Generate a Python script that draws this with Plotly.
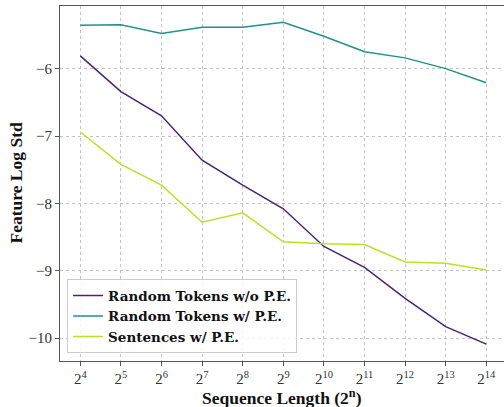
import plotly.graph_objects as go

n_exp = [4, 5, 6, 7, 8, 9, 10, 11, 12, 13, 14]
no_pe = [-5.81, -6.34, -6.70, -7.36, -7.73, -8.08, -8.64, -8.95, -9.41, -9.83, -10.09]
rand_pe = [-5.354, -5.348, -5.477, -5.384, -5.384, -5.31, -5.52, -5.75, -5.84, -6.00, -6.21]
sent_pe = [-6.94, -7.42, -7.73, -8.28, -8.14, -8.57, -8.60, -8.61, -8.87, -8.89, -8.99]
names = ["Random Tokens w/o P.E.", "Random Tokens w/ P.E.", "Sentences w/ P.E."]
colors = ["#482475", "#21918c", "#bddf26"]
x_ticktext = [f"2<sup>{n}</sup>" for n in n_exp]
y_tickvals = [-10, -9, -8, -7, -6]
y_ticktext = ["\u221210", "\u22129", "\u22128", "\u22127", "\u22126"]
x_title = "<b>Sequence Length (2<sup>n</sup>)</b>"
y_title = "<b>Feature Log Std</b>"

font = "Liberation Serif, DejaVu Serif, serif"
legfont = "DejaVu Serif, serif"

W, H = 504, 407
L, R, T, B = 60, 0, 6, 46
pw, ph = W - L - R, H - T - B

fig = go.Figure()
for name, vals, c in zip(names, [no_pe, rand_pe, sent_pe], colors):
    fig.add_trace(go.Scatter(x=n_exp, y=vals, mode="lines", name=f"<b>{name}</b>",
                             line=dict(color=c, width=1.5)))

axis_common = dict(
    showgrid=True, gridcolor="#c4c4c4", griddash="dot", gridwidth=0.7,
    zeroline=False, showline=True, linecolor="#555555", linewidth=1.2,
    ticks="outside", ticklen=4, tickcolor="#555555", tickwidth=1,
    tickfont=dict(family=font, size=15, color="#333333"),
)

fig.update_layout(
    width=W, height=H,
    margin=dict(l=L, r=R, t=T, b=B),
    paper_bgcolor="white", plot_bgcolor="white",
    showlegend=True,
    legend=dict(x=0.016, y=0.022, xanchor="left", yanchor="bottom",
                bgcolor="rgba(255,255,255,0.85)", bordercolor="#cccccc", borderwidth=1,
                font=dict(family=legfont, size=13.5, color="#111111"),
                itemwidth=30, tracegroupgap=0),
    xaxis=dict(axis_common, range=[3.5, 14.436], tickvals=n_exp, ticktext=x_ticktext,
               mirror=True),
    yaxis=dict(axis_common, range=[-10.34, -5.07], tickvals=y_tickvals, ticktext=y_ticktext),
)

fig.add_annotation(text=x_title, xref="paper", yref="paper",
                   x=0.5, y=-(397 - (H - B)) / ph, xanchor="center", yanchor="middle",
                   showarrow=False, font=dict(family=font, size=17.5, color="#111111"))
fig.add_annotation(text=y_title, xref="paper", yref="paper",
                   x=-(L - 15) / pw, y=0.5, xanchor="center", yanchor="middle",
                   textangle=-90, showarrow=False,
                   font=dict(family=font, size=17.5, color="#111111"))

fig.write_html("out.html")
